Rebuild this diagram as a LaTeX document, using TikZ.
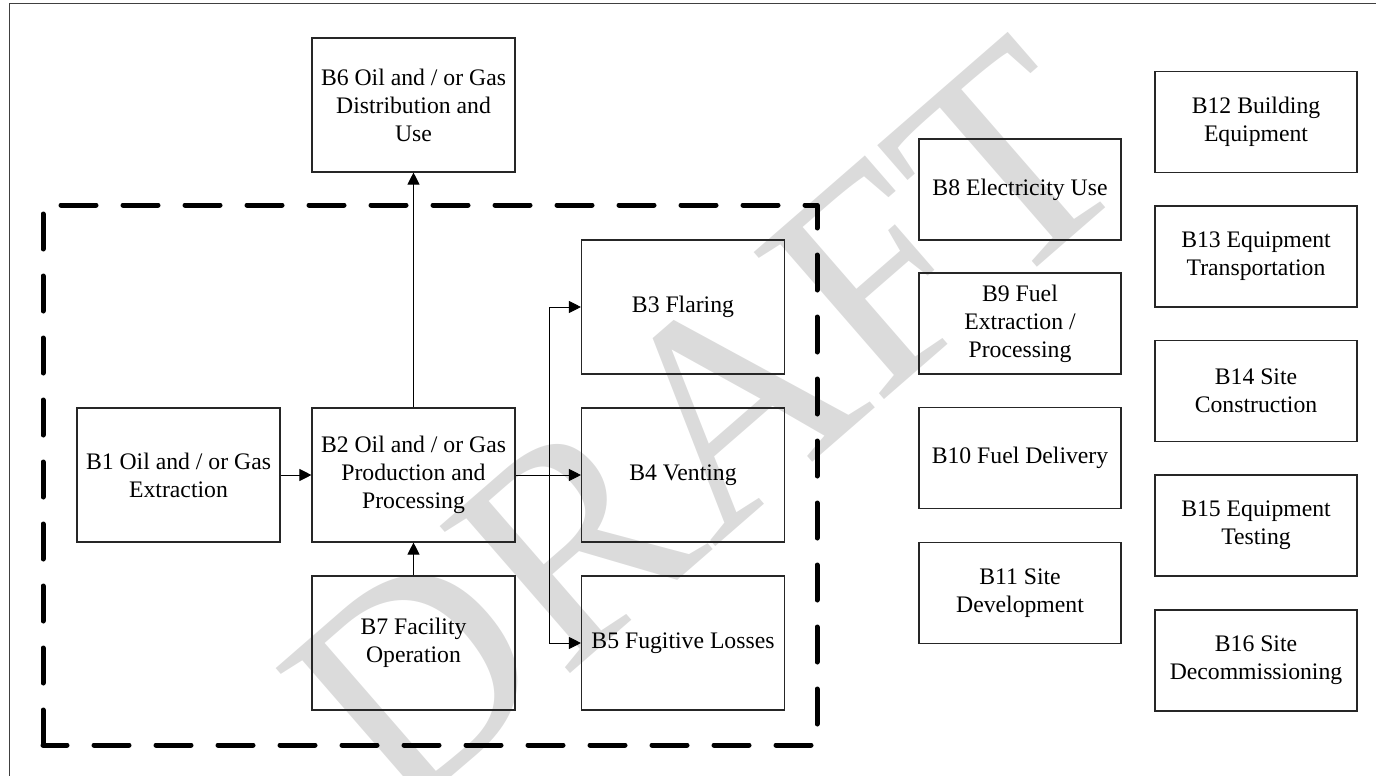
\documentclass[tikz,border=0pt]{standalone}
\usepackage{fontspec}
\setmainfont{Liberation Serif}
\usetikzlibrary{arrows.meta}
\begin{document}
\begin{tikzpicture}[x=1pt,y=-1pt,
  blk/.style={draw=black!85, line width=1.1pt, inner sep=0pt, align=center,
    font=\fontsize{23.7}{28}\selectfont},
  bigblk/.style={blk, minimum width=203pt, minimum height=134pt},
  smallblk/.style={blk, minimum width=202pt, minimum height=101pt},
  arr/.style={draw=black, line width=0.9pt, -{Triangle[length=12pt,width=12pt]}},
  boundary/.style={draw=black, line width=5pt, line cap=round, line join=round,
    dash pattern=on 35pt off 27pt, dash phase=0pt},
  frameline/.style={draw=black!75, line width=1pt},
  watermark/.style={text=black!14, rotate=41, inner sep=0pt,
    font=\fontsize{300}{300}\selectfont}]
\useasboundingbox (0,0) rectangle (1376,776);
% watermark
\node[watermark] (wm) at (705,425) {DRAFT};
% frame
\draw[frameline] (9,776) -- (9,4) -- (1376,4);
% boundary
\draw[boundary] (43,745) -- (43,205) -- (817,205) -- (817,745) -- cycle;
% main process boxes
\node[bigblk] (b6) at (413.5,105) {B6 Oil and / or Gas\\Distribution and\\Use};
\node[bigblk] (b1) at (178.5,475) {B1 Oil and / or Gas\\Extraction};
\node[bigblk] (b2) at (413.5,475) {B2 Oil and / or Gas\\Production and\\Processing};
\node[bigblk] (b7) at (413.5,643) {B7 Facility\\Operation};
\node[bigblk] (b3) at (683,307) {B3 Flaring};
\node[bigblk] (b4) at (683,475) {B4 Venting};
\node[bigblk] (b5) at (683,643) {B5 Fugitive Losses};
% middle column
\node[smallblk] (b8) at (1020,189.5) {B8 Electricity Use};
\node[smallblk] (b9) at (1020,323.5) {B9 Fuel\\Extraction /\\Processing};
\node[smallblk] (b10) at (1020,458) {B10 Fuel Delivery};
\node[smallblk] (b11) at (1020,593) {B11 Site\\Development};
% right column
\node[smallblk] (b12) at (1256,122) {B12 Building\\Equipment};
\node[smallblk] (b13) at (1256,256.5) {B13 Equipment\\Transportation};
\node[smallblk] (b14) at (1256,391) {B14 Site\\Construction};
\node[smallblk] (b15) at (1256,525.5) {B15 Equipment\\Testing};
\node[smallblk] (b16) at (1256,660.5) {B16 Site\\Decommissioning};
% connectors
\draw[arr] (b1) -- (b2);
\draw[arr] (b2) -- (b6);
\draw[arr] (b7) -- (b2);
\draw[arr] (b2) -- (b4);
\coordinate (j) at (549,475);
\draw[arr] (j) |- (b3.west);
\draw[arr] (j) |- (b5.west);
\end{tikzpicture}
\end{document}
